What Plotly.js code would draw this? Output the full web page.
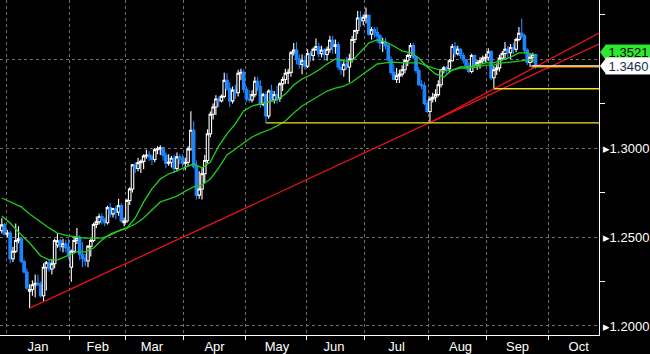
<!DOCTYPE html>
<html>
<head>
<meta charset="utf-8">
<script src="https://cdn.plot.ly/plotly-3.0.1.min.js"></script>
<style>html,body{margin:0;padding:0;background:#000;}#chart{width:650px;height:354px;}</style>
</head>
<body>
<div id="chart"></div>
<script>
// ---- Candle data (GBP/USD daily) ----
const dates = [
"2024-12-30","2024-12-31",
"2025-01-01","2025-01-02","2025-01-03","2025-01-06","2025-01-07","2025-01-08","2025-01-09","2025-01-10","2025-01-13","2025-01-14","2025-01-15","2025-01-16","2025-01-17","2025-01-20","2025-01-21","2025-01-22","2025-01-23","2025-01-24","2025-01-27","2025-01-28","2025-01-29","2025-01-30","2025-01-31",
"2025-02-03","2025-02-04","2025-02-05","2025-02-06","2025-02-07","2025-02-10","2025-02-11","2025-02-12","2025-02-13","2025-02-14","2025-02-17","2025-02-18","2025-02-19","2025-02-20","2025-02-21","2025-02-24","2025-02-25","2025-02-26","2025-02-27","2025-02-28",
"2025-03-03","2025-03-04","2025-03-05","2025-03-06","2025-03-07","2025-03-10","2025-03-11","2025-03-12","2025-03-13","2025-03-14","2025-03-17","2025-03-18","2025-03-19","2025-03-20","2025-03-21","2025-03-24","2025-03-25","2025-03-26","2025-03-27","2025-03-28","2025-03-31",
"2025-04-01","2025-04-02","2025-04-03","2025-04-04","2025-04-07","2025-04-08","2025-04-09","2025-04-10","2025-04-11","2025-04-14","2025-04-15","2025-04-16","2025-04-17","2025-04-18","2025-04-21","2025-04-22","2025-04-23","2025-04-24","2025-04-25","2025-04-28","2025-04-29","2025-04-30",
"2025-05-01","2025-05-02","2025-05-05","2025-05-06","2025-05-07","2025-05-08","2025-05-09","2025-05-12","2025-05-13","2025-05-14","2025-05-15","2025-05-16","2025-05-19","2025-05-20","2025-05-21","2025-05-22","2025-05-23","2025-05-26","2025-05-27","2025-05-28","2025-05-29","2025-05-30",
"2025-06-02","2025-06-03","2025-06-04","2025-06-05","2025-06-06","2025-06-09","2025-06-10","2025-06-11","2025-06-12","2025-06-13","2025-06-16","2025-06-17","2025-06-18","2025-06-19","2025-06-20","2025-06-23","2025-06-24","2025-06-25","2025-06-26","2025-06-27","2025-06-30",
"2025-07-01","2025-07-02","2025-07-03","2025-07-04","2025-07-07","2025-07-08","2025-07-09","2025-07-10","2025-07-11","2025-07-14","2025-07-15","2025-07-16","2025-07-17","2025-07-18","2025-07-21","2025-07-22","2025-07-23","2025-07-24","2025-07-25","2025-07-28","2025-07-29","2025-07-30","2025-07-31",
"2025-08-01","2025-08-04","2025-08-05","2025-08-06","2025-08-07","2025-08-08","2025-08-11","2025-08-12","2025-08-13","2025-08-14","2025-08-15","2025-08-18","2025-08-19","2025-08-20","2025-08-21","2025-08-22","2025-08-25","2025-08-26","2025-08-27","2025-08-28","2025-08-29",
"2025-09-01","2025-09-02","2025-09-03","2025-09-04","2025-09-05","2025-09-08","2025-09-09","2025-09-10","2025-09-11","2025-09-12","2025-09-15","2025-09-16","2025-09-17","2025-09-18","2025-09-19","2025-09-22","2025-09-23","2025-09-24"
];
const open = [
1.2535,1.2568,
1.2516,1.2522,1.2378,1.2420,1.2480,1.2490,1.2362,1.2303,1.2195,1.2205,1.2232,1.2240,1.2232,1.2170,1.2330,1.2355,1.2320,1.2350,1.2455,1.2478,1.2445,1.2462,1.2440,
1.2330,1.2420,1.2480,1.2495,1.2400,1.2380,1.2365,1.2448,1.2480,1.2570,1.2585,1.2615,1.2595,1.2580,1.2665,1.2630,1.2660,1.2640,1.2676,1.2580,
1.2590,1.2705,1.2770,1.2905,1.2885,1.2918,1.2925,1.2955,1.2960,1.2950,1.2935,1.2990,1.2995,1.3002,1.2960,1.2915,1.2920,1.2942,1.2885,1.2950,1.2940,
1.2915,1.2920,1.2994,1.3100,1.2895,1.2735,1.2770,1.2855,1.2930,1.3080,1.3190,1.3230,1.3275,1.3265,1.3290,1.3380,1.3335,1.3265,1.3325,1.3310,1.3420,1.3425,
1.3330,1.3275,1.3270,1.3300,1.3375,1.3345,1.3245,1.3300,1.3180,1.3320,1.3270,1.3300,1.3280,1.3360,1.3385,1.3420,1.3425,1.3535,1.3550,1.3500,1.3470,1.3490,
1.3460,1.3530,1.3520,1.3555,1.3570,1.3530,1.3550,1.3525,1.3555,1.3605,1.3570,1.3580,1.3455,1.3440,1.3470,1.3455,1.3500,1.3610,1.3660,1.3730,1.3715,
1.3735,1.3745,1.3640,1.3665,1.3650,1.3630,1.3590,1.3595,1.3575,1.3495,1.3425,1.3385,1.3405,1.3415,1.3440,1.3490,1.3520,1.3575,1.3510,1.3435,1.3355,1.3350,1.3250,
1.3205,1.3275,1.3285,1.3300,1.3355,1.3440,1.3450,1.3445,1.3490,1.3570,1.3530,1.3555,1.3520,1.3495,1.3460,1.3430,1.3520,1.3465,1.3480,1.3490,1.3505,
1.3510,1.3540,1.3395,1.3440,1.3450,1.3505,1.3530,1.3555,1.3535,1.3565,1.3555,1.3610,1.3645,1.3630,1.3550,1.3480,1.3510,1.3525
];
const high = [
1.2606,1.2580,
1.2540,1.2535,1.2445,1.2576,1.2560,1.2500,1.2375,1.2325,1.2235,1.2256,1.2290,1.2290,1.2250,1.2353,1.2365,1.2376,1.2375,1.2490,1.2523,1.2490,1.2490,1.2485,1.2490,
1.2430,1.2500,1.2550,1.2510,1.2470,1.2405,1.2455,1.2490,1.2580,1.2615,1.2630,1.2633,1.2610,1.2675,1.2690,1.2665,1.2675,1.2715,1.2690,1.2610,
1.2715,1.2780,1.2910,1.2920,1.2945,1.2935,1.2965,1.2990,1.2985,1.2965,1.3000,1.3010,1.3015,1.3005,1.2975,1.2965,1.2955,1.2960,1.2975,1.2965,1.2965,
1.2945,1.3010,1.3207,1.3150,1.2930,1.2870,1.2890,1.2960,1.3105,1.3205,1.3250,1.3296,1.3290,1.3300,1.3423,1.3420,1.3370,1.3345,1.3355,1.3440,1.3445,1.3440,
1.3345,1.3325,1.3325,1.3400,1.3400,1.3380,1.3310,1.3315,1.3330,1.3355,1.3320,1.3350,1.3370,1.3400,1.3445,1.3445,1.3545,1.3590,1.3595,1.3525,1.3525,1.3520,
1.3555,1.3545,1.3565,1.3615,1.3590,1.3575,1.3560,1.3570,1.3630,1.3630,1.3610,1.3595,1.3500,1.3490,1.3510,1.3530,1.3630,1.3665,1.3770,1.3770,1.3750,
1.3789,1.3750,1.3680,1.3680,1.3680,1.3640,1.3620,1.3620,1.3590,1.3515,1.3470,1.3450,1.3440,1.3465,1.3500,1.3530,1.3590,1.3590,1.3520,1.3455,1.3380,1.3370,1.3270,
1.3290,1.3310,1.3330,1.3380,1.3445,1.3460,1.3460,1.3500,1.3585,1.3595,1.3575,1.3560,1.3535,1.3500,1.3480,1.3530,1.3525,1.3495,1.3510,1.3520,1.3530,
1.3560,1.3550,1.3460,1.3475,1.3525,1.3545,1.3595,1.3575,1.3585,1.3590,1.3620,1.3680,1.3726,1.3640,1.3560,1.3530,1.3535,1.3530
];
const low = [
1.2520,1.2510,
1.2500,1.2352,1.2360,1.2410,1.2465,1.2355,1.2295,1.2205,1.2100,1.2170,1.2160,1.2225,1.2160,1.2140,1.2200,1.2305,1.2290,1.2325,1.2440,1.2420,1.2415,1.2415,1.2375,
1.2249,1.2410,1.2460,1.2370,1.2330,1.2335,1.2330,1.2390,1.2470,1.2550,1.2570,1.2570,1.2560,1.2570,1.2610,1.2610,1.2600,1.2620,1.2580,1.2560,
1.2580,1.2680,1.2750,1.2860,1.2870,1.2860,1.2880,1.2940,1.2925,1.2905,1.2920,1.2965,1.2960,1.2930,1.2886,1.2900,1.2890,1.2860,1.2870,1.2910,1.2895,
1.2875,1.2900,1.2985,1.2885,1.2710,1.2715,1.2710,1.2800,1.2915,1.3060,1.3160,1.3185,1.3230,1.3255,1.3280,1.3320,1.3230,1.3250,1.3275,1.3290,1.3380,1.3310,
1.3260,1.3255,1.3255,1.3285,1.3320,1.3225,1.3235,1.3140,1.3165,1.3260,1.3250,1.3250,1.3260,1.3320,1.3360,1.3360,1.3400,1.3520,1.3470,1.3445,1.3415,1.3440,
1.3450,1.3485,1.3490,1.3545,1.3510,1.3510,1.3490,1.3490,1.3535,1.3530,1.3530,1.3440,1.3410,1.3400,1.3440,1.3370,1.3480,1.3590,1.3640,1.3680,1.3690,
1.3700,1.3630,1.3610,1.3620,1.3590,1.3555,1.3540,1.3555,1.3480,1.3410,1.3380,1.3365,1.3365,1.3400,1.3420,1.3460,1.3505,1.3500,1.3420,1.3350,1.3330,1.3240,1.3195,
1.3141,1.3255,1.3260,1.3290,1.3340,1.3420,1.3415,1.3420,1.3485,1.3510,1.3520,1.3500,1.3475,1.3440,1.3420,1.3420,1.3455,1.3440,1.3445,1.3470,1.3480,
1.3490,1.3380,1.3333,1.3410,1.3430,1.3490,1.3500,1.3510,1.3500,1.3530,1.3540,1.3600,1.3615,1.3530,1.3465,1.3455,1.3480,1.3445
];
const close = [
1.2568,1.2516,
1.2522,1.2378,1.2420,1.2480,1.2490,1.2362,1.2303,1.2212,1.2205,1.2232,1.2240,1.2232,1.2170,1.2330,1.2355,1.2320,1.2350,1.2480,1.2478,1.2445,1.2462,1.2440,1.2400,
1.2420,1.2480,1.2495,1.2400,1.2380,1.2365,1.2448,1.2480,1.2570,1.2585,1.2615,1.2595,1.2580,1.2665,1.2630,1.2660,1.2640,1.2676,1.2590,1.2590,
1.2705,1.2770,1.2905,1.2885,1.2918,1.2925,1.2955,1.2960,1.2950,1.2935,1.2990,1.2995,1.3002,1.2960,1.2915,1.2920,1.2942,1.2885,1.2950,1.2940,1.2915,
1.2920,1.2994,1.3100,1.2895,1.2735,1.2770,1.2855,1.2930,1.3080,1.3190,1.3230,1.3275,1.3265,1.3290,1.3380,1.3335,1.3265,1.3325,1.3310,1.3420,1.3425,1.3330,
1.3275,1.3270,1.3300,1.3375,1.3345,1.3245,1.3300,1.3180,1.3320,1.3270,1.3300,1.3280,1.3360,1.3385,1.3420,1.3425,1.3535,1.3550,1.3500,1.3470,1.3490,1.3460,
1.3530,1.3520,1.3555,1.3570,1.3530,1.3550,1.3525,1.3555,1.3605,1.3570,1.3580,1.3455,1.3440,1.3470,1.3455,1.3500,1.3610,1.3660,1.3730,1.3715,1.3735,
1.3745,1.3640,1.3665,1.3650,1.3630,1.3590,1.3595,1.3575,1.3495,1.3425,1.3385,1.3405,1.3415,1.3440,1.3490,1.3520,1.3575,1.3510,1.3435,1.3355,1.3350,1.3250,1.3205,
1.3275,1.3285,1.3300,1.3355,1.3440,1.3450,1.3445,1.3490,1.3570,1.3530,1.3555,1.3520,1.3495,1.3460,1.3430,1.3520,1.3465,1.3480,1.3490,1.3505,1.3510,
1.3540,1.3395,1.3440,1.3450,1.3505,1.3530,1.3555,1.3535,1.3565,1.3555,1.3610,1.3645,1.3630,1.3550,1.3480,1.3510,1.3525,1.3460
];

// ---- Moving-average lines (at sample dates) ----
const maDates = ["2024-12-30","2025-01-02","2025-01-08","2025-01-13","2025-01-17","2025-01-22","2025-01-27","2025-01-31","2025-02-05","2025-02-10","2025-02-13","2025-02-18","2025-02-21","2025-02-26","2025-03-03","2025-03-06","2025-03-11","2025-03-14","2025-03-19","2025-03-24","2025-03-27","2025-04-01","2025-04-04","2025-04-09","2025-04-14","2025-04-17","2025-04-22","2025-04-25","2025-04-30","2025-05-05","2025-05-08","2025-05-13","2025-05-16","2025-05-21","2025-05-26","2025-05-29","2025-06-03","2025-06-06","2025-06-11","2025-06-16","2025-06-19","2025-06-24","2025-06-27","2025-07-02","2025-07-07","2025-07-10","2025-07-15","2025-07-18","2025-07-23","2025-07-28","2025-07-31","2025-08-05","2025-08-08","2025-08-13","2025-08-18","2025-08-21","2025-08-26","2025-08-29","2025-09-03","2025-09-08","2025-09-11","2025-09-16","2025-09-19","2025-09-24"];
const maFast = [1.2618,1.2579,1.2511,1.2466,1.2393,1.2371,1.2371,1.2399,1.2416,1.2416,1.2438,1.2483,1.2517,1.2534,1.2551,1.2607,1.2697,1.2770,1.2826,1.2854,1.2871,1.2893,1.2910,1.2888,1.2921,1.3011,1.3079,1.3135,1.3208,1.3236,1.3247,1.3258,1.3270,1.3303,1.3354,1.3388,1.3410,1.3438,1.3472,1.3500,1.3489,1.3489,1.3539,1.3590,1.3607,1.3596,1.3573,1.3545,1.3534,1.3506,1.3455,1.3416,1.3399,1.3438,1.3455,1.3455,1.3466,1.3478,1.3478,1.3494,1.3511,1.3534,1.3534,1.3521];
const maSlow = [1.2719,1.2697,1.2669,1.2629,1.2584,1.2551,1.2522,1.2506,1.2500,1.2494,1.2494,1.2494,1.2511,1.2534,1.2551,1.2573,1.2607,1.2652,1.2697,1.2713,1.2730,1.2758,1.2781,1.2792,1.2826,1.2888,1.2961,1.2994,1.3028,1.3062,1.3084,1.3101,1.3124,1.3152,1.3197,1.3236,1.3264,1.3292,1.3320,1.3337,1.3348,1.3371,1.3405,1.3438,1.3472,1.3478,1.3483,1.3478,1.3478,1.3478,1.3461,1.3444,1.3433,1.3438,1.3449,1.3449,1.3455,1.3466,1.3466,1.3478,1.3483,1.3489,1.3494,1.3494];

// ---- Drawn studies ----
const trend1Dates = ["2025-01-13 12:00","2025-10-27 07:26"];
const trend1Vals = [1.2100,1.3584];
const trend2Dates = ["2025-08-01 12:00","2025-10-27 07:26"];
const trend2Vals = [1.3141,1.3646];
const supportStart = ["2025-05-12 12:00","2025-09-03 12:00"];
const supportLevels = [1.3141,1.3333];
const lastLineStart = "2025-09-23 00:00";

// ---- Axis labels ----
const yTickVals = [1.20,1.25,1.30,1.35];
const yTickText = ["1.2000","1.2500","1.3000",""];
const yMinorVals = [1.225,1.275,1.325,1.375];

const X_END = "2025-10-27 07:26";
const FONT = "'Liberation Sans',Arial,sans-serif";
const mid = d => d + " 12:00";

const traces = [];
traces.push({
  type:'candlestick', x: dates.map(mid), open, high, low, close,
  increasing:{line:{color:'#ffffff', width:1.1}, fillcolor:'#000000'},
  decreasing:{line:{color:'#1e86ff', width:1.1}, fillcolor:'#1e86ff'},
  whiskerwidth:0, hoverinfo:'skip'
});
traces.push({type:'scatter', mode:'lines', x: maDates.map(mid), y: maSlow, line:{color:'#1ec81e', width:1.3}, hoverinfo:'skip'});
traces.push({type:'scatter', mode:'lines', x: maDates.map(mid), y: maFast, line:{color:'#22d422', width:1.3}, hoverinfo:'skip'});
traces.push({type:'scatter', mode:'lines', x: trend1Dates, y: trend1Vals, line:{color:'#e8121c', width:1.3}, hoverinfo:'skip'});
traces.push({type:'scatter', mode:'lines', x: trend2Dates, y: trend2Vals, line:{color:'#e8121c', width:1.3}, hoverinfo:'skip'});
supportStart.forEach((s,i)=>{
  traces.push({type:'scatter', mode:'lines', x:[s, X_END], y:[supportLevels[i], supportLevels[i]], line:{color:'#f2e21c', width:1.4}, hoverinfo:'skip'});
});
const lastClose = close[close.length-1];
const lastFast = maFast[maFast.length-1];
traces.push({type:'scatter', mode:'lines', x:[lastLineStart, X_END], y:[lastClose-0.0004, lastClose-0.0004], line:{color:'#ff9a00', width:1.5}, hoverinfo:'skip'});
traces.push({type:'scatter', mode:'lines', x:[lastLineStart, X_END], y:[lastClose+0.0002, lastClose+0.0002], line:{color:'#ffffff', width:1}, hoverinfo:'skip'});

const layout = {
  width:650, height:354,
  paper_bgcolor:'#000000', plot_bgcolor:'#000000',
  margin:{l:0, r:51, t:0, b:19, pad:0},
  showlegend:false,
  boxgap:0.1, boxgroupgap:0,
  font:{family:FONT, color:'#ffffff'},
  xaxis:{
    type:'date', range:["2024-12-27 20:13", X_END],
    rangebreaks:[{bounds:['sat','mon']}],
    rangeslider:{visible:false},
    tick0:'2025-01-01', dtick:'M1', tickformat:'%b', ticklabelmode:'period',
    showgrid:true, gridcolor:'#707070', gridwidth:1, griddash:'3px,3px',
    showline:true, linecolor:'#ffffff', linewidth:1,
    ticks:'outside', ticklen:4, tickcolor:'#ffffff', tickwidth:1,
    ticklabelstandoff:-5,
    tickfont:{family:FONT, size:13, color:'#ffffff'},
    zeroline:false, fixedrange:true
  },
  yaxis:{
    side:'right', range:[1.19494, 1.38315],
    tickmode:'array', tickvals:yTickVals, ticktext:yTickText.map(t=> t ? '\u25B8' + t : ''),
    ticks:'', showgrid:true, gridcolor:'#707070', gridwidth:1, griddash:'3px,3px',
    showline:true, linecolor:'#ffffff', linewidth:1,
    ticklabelstandoff:0,
    tickfont:{family:FONT, size:13, color:'#ffffff'},
    minor:{tickmode:'array', tickvals:yMinorVals, ticks:'outside', ticklen:5, tickcolor:'#ffffff', showgrid:false},
    zeroline:false, fixedrange:true
  },
  annotations:[
    {xref:'paper', x:1, xanchor:'left', xshift:6, yref:'y', y:lastFast, yanchor:'middle', yshift:3,
     text:lastFast.toFixed(4), showarrow:false, bgcolor:'#2ee82e', borderpad:0, width:45, height:15,
     font:{family:FONT, size:13, color:'#000000'}},
    {xref:'paper', x:1, xanchor:'left', xshift:6, yref:'y', y:lastClose, yanchor:'middle',
     text:lastClose.toFixed(4), showarrow:false, bgcolor:'#ffffff', borderpad:0, width:45, height:16,
     font:{family:FONT, size:13, color:'#1c2c4c'}}
  ],
  shapes:[
    {type:'path', xref:'paper', xsizemode:'pixel', xanchor:1, yref:'y', ysizemode:'pixel', yanchor:lastFast,
     path:'M 1 3 L 7 11 L 7 -5 Z', fillcolor:'#2ee82e', line:{width:0}, layer:'above'},
    {type:'path', xref:'paper', xsizemode:'pixel', xanchor:1, yref:'y', ysizemode:'pixel', yanchor:lastClose,
     path:'M 1 0 L 7 8 L 7 -8 Z', fillcolor:'#ffffff', line:{width:0}, layer:'above'}
  ]
};

Plotly.newPlot('chart', traces, layout, {displayModeBar:false, staticPlot:true});
</script>
</body>
</html>
